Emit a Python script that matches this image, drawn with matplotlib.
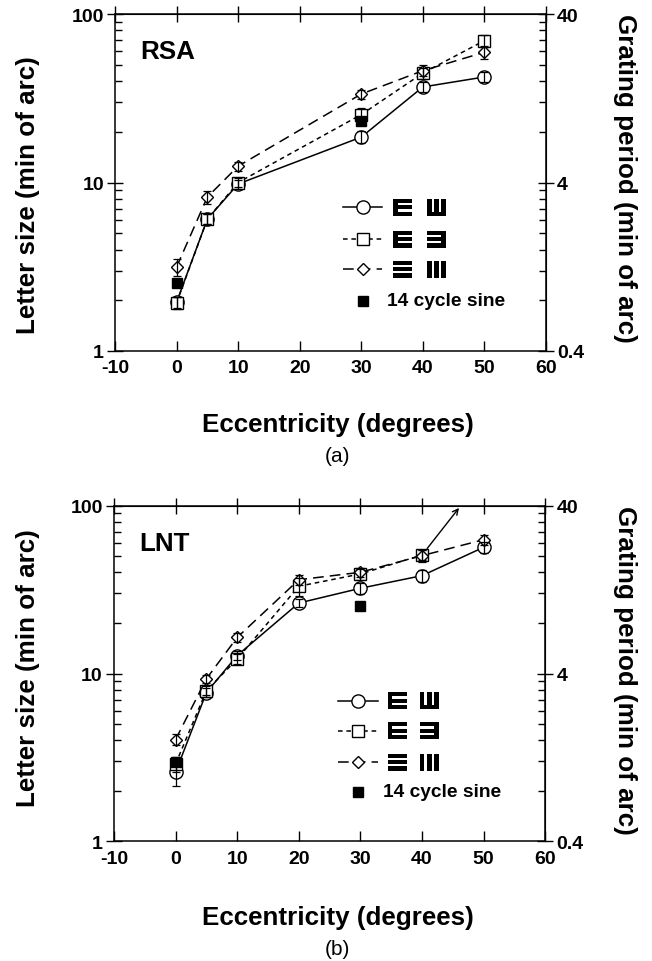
import matplotlib
matplotlib.use("Agg")
import matplotlib.pyplot as plt
from matplotlib.patches import Rectangle

plt.rcParams['font.family'] = ['Liberation Sans', 'DejaVu Sans']
plt.rcParams['font.weight'] = 'bold'

# ===== data (letter size, min of arc) =====
ecc_a = [0, 5, 10, 30, 40, 50]
rsa_ew = [1.95, 6.07, 9.8, 18.6, 36.9, 42.3]
rsa_ew_err = [0.15, 0.4, 0.6, 1.5, 2.5, 3.0]
rsa_ee = [1.93, 6.07, 10.0, 25.3, 44.6, 69.5]
rsa_ee_err = [0.15, 0.4, 0.6, 2.5, 3.5, 6.0]
rsa_gr = [3.15, 8.2, 12.5, 33.5, 46.1, 59.3]
rsa_gr_err = [0.35, 0.7, 0.8, 2.0, 3.5, 5.0]
rsa_sine_x = [0, 30]
rsa_sine = [2.53, 23.3]

ecc_b = [0, 5, 10, 20, 30, 40, 50]
lnt_ew = [2.58, 7.7, 12.8, 26.3, 32.2, 38.3, 56.5]
lnt_ew_err = [0.45, 0.5, 0.8, 1.5, 2.5, 3.0, 4.0]
lnt_ee = [2.89, 7.9, 12.2, 33.1, 39.2, 50.8]
lnt_ee_err = [0.3, 0.5, 0.8, 4.0, 3.0, 3.5]
lnt_gr = [4.04, 9.3, 16.4, 36.2, 40.1, 50.4, 62.7]
lnt_gr_err = [0.3, 0.5, 1.0, 2.5, 2.5, 4.0, 4.0]
lnt_sine_x = [0, 30]
lnt_sine = [2.98, 25.4]

x_ticks = [-10, 0, 10, 20, 30, 40, 50, 60]

SHORT = (0, (3, 2.5))
LONG = (0, (7, 4))


def glyph(ax, x0, yc, w, h, kind):
    # tumbling E / grating symbols: 3 bars on a 5-unit box
    s = w / 5.0
    t = h / 5.0
    y0 = yc - h / 2
    b, p = 1.2, 1.9  # bar thickness, bar pitch
    bars = []
    if kind == 'E':
        bars = [(0, 0, b, 5)] + [(0, i * p, 5, b) for i in range(3)]
    elif kind == 'W':
        bars = [(0, 0, 5, b)] + [(i * p, 0, b, 5) for i in range(3)]
    elif kind == 'R':
        bars = [(5 - b, 0, b, 5)] + [(0, i * p, 5, b) for i in range(3)]
    elif kind == 'H':
        bars = [(0, i * p, 5, b) for i in range(3)]
    elif kind == 'V':
        bars = [(i * p, 0, b, 5) for i in range(3)]
    for bx, by, bw, bh in bars:
        ax.add_patch(Rectangle((x0 + bx * s, y0 + by * t), bw * s, bh * t,
                               transform=ax.transAxes, color='black',
                               lw=0, clip_on=False, zorder=6))


def panel(ax, ecc, ew, ew_err, ee, ee_err, gr, gr_err, sx, sine, name, leg):
    mk = dict(color='black', lw=1.1, mfc='white', mec='black', mew=1.0, zorder=3)
    ax.plot(ecc, ew, ls='-', marker='o', ms=9.5, **mk)
    ax.plot(ecc[:len(ee)], ee, ls=SHORT, marker='s', ms=9, **mk)
    ax.plot(ecc, gr, ls=LONG, marker='D', ms=6.5, **mk)
    for xs, ys, es in [(ecc, ew, ew_err), (ecc[:len(ee)], ee, ee_err), (ecc, gr, gr_err)]:
        ax.errorbar(xs, ys, yerr=es, fmt='none', ecolor='black', elinewidth=0.9,
                    capsize=3, capthick=0.9, zorder=4)
    ax.plot(sx, sine, ls='none', marker='s', ms=7, color='black', zorder=5)

    ax.set_yscale('log')
    ax.set_xlim(-10, 60)
    ax.set_ylim(1, 100)
    ax.set_xticks(x_ticks)
    ax.set_xticklabels([str(v) for v in x_ticks])
    ax.tick_params(axis='x', direction='in', length=7, width=1, labelsize=14, pad=6)
    ax.tick_params(axis='y', which='major', direction='inout', length=12, width=1,
                   labelsize=14, pad=2)
    ax.tick_params(axis='y', which='minor', direction='in', length=5, width=1)
    ax.set_yticks([1, 10, 100])
    ax.set_yticklabels(['1', '10', '100'])
    for sp in ax.spines.values():
        sp.set_linewidth(1.1)

    top = ax.secondary_xaxis('top')
    top.set_xticks(x_ticks)
    top.tick_params(direction='inout', length=12, width=1, labelsize=0)
    top.set_xticklabels([])

    right = ax.secondary_yaxis('right', functions=(lambda v: v * 0.4, lambda v: v / 0.4))
    right.set_yticks([0.4, 4, 40])
    right.set_yticklabels(['0.4', '4', '40'])
    right.set_yticks([0.4 * k * d for d in (1, 10) for k in range(2, 10)], minor=True)
    right.yaxis.set_minor_formatter(plt.NullFormatter())
    right.tick_params(which='major', direction='inout', length=12, width=1,
                      labelsize=14, pad=2)
    right.tick_params(which='minor', direction='in', length=5, width=1)

    ax.text(0.058, 0.889, name, transform=ax.transAxes, fontsize=18.7,
            fontweight='bold', ha='left', va='center')

    # ===== legend =====
    lx0, lx1, lm, g1, g2, tx, rows = leg
    styles = [('-', 'o', 9.5), (SHORT, 's', 9), (LONG, 'D', 6.5)]
    pairs = [('E', 'W'), ('E', 'R'), ('H', 'V')]
    for (ls, m, ms), (k1, k2), yr in zip(styles, pairs, rows[:3]):
        ax.plot([lx0, lx1], [yr, yr], ls=ls, color='black', lw=1.1,
                transform=ax.transAxes, clip_on=False)
        ax.plot([lm], [yr], marker=m, ms=ms, mfc='white', mec='black', mew=1.0,
                transform=ax.transAxes, clip_on=False, zorder=5)
        glyph(ax, g1, yr, 0.044, 0.05, k1)
        glyph(ax, g2, yr, 0.044, 0.05, k2)
    ax.plot([lm], [rows[3]], marker='s', ms=7, color='black',
            transform=ax.transAxes, clip_on=False)
    ax.text(tx, rows[3], '14 cycle sine', transform=ax.transAxes, fontsize=13.8,
            fontweight='bold', ha='left', va='center')


fig = plt.figure(figsize=(6.52, 9.62), dpi=100)
ax1 = fig.add_axes([0.1764, 0.6341, 0.661, 0.3503])
ax2 = fig.add_axes([0.1748, 0.1244, 0.6615, 0.3489])

panel(ax1, ecc_a, rsa_ew, rsa_ew_err, rsa_ee, rsa_ee_err, rsa_gr, rsa_gr_err,
      rsa_sine_x, rsa_sine, 'RSA',
      (0.529, 0.619, 0.575, 0.645, 0.724, 0.630, [0.426, 0.332, 0.243, 0.149]))
panel(ax2, ecc_b, lnt_ew, lnt_ew_err, lnt_ee, lnt_ee_err, lnt_gr, lnt_gr_err,
      lnt_sine_x, lnt_sine, 'LNT',
      (0.519, 0.613, 0.566, 0.635, 0.709, 0.623, [0.419, 0.330, 0.236, 0.147]))

# off-scale point marker
ax2.annotate('', xy=(46, 97), xytext=(ecc_b[len(lnt_ee) - 1], lnt_ee[-1]),
             arrowprops=dict(arrowstyle='->', color='black', lw=1.0,
                             shrinkA=6, shrinkB=0))

lab = dict(fontsize=18.7, fontweight='bold', ha='center', va='center')
fig.text(28 / 652, 1 - 195 / 962, 'Letter size (min of arc)', rotation=90, **lab)
fig.text(625 / 652, 1 - 178 / 962, 'Grating period (min of arc)', rotation=-90, **lab)
fig.text(28 / 652, 1 - 668 / 962, 'Letter size (min of arc)', rotation=90, **lab)
fig.text(625 / 652, 1 - 670 / 962, 'Grating period (min of arc)', rotation=-90, **lab)
fig.text(338 / 652, 1 - 425 / 962, 'Eccentricity (degrees)', **lab)
fig.text(338 / 652, 1 - 918 / 962, 'Eccentricity (degrees)', **lab)
fig.text(337 / 652, 1 - 457 / 962, '(a)', fontsize=15, fontweight='normal',
         ha='center', va='center')
fig.text(337 / 652, 1 - 950 / 962, '(b)', fontsize=15, fontweight='normal',
         ha='center', va='center')

fig.savefig('out.png', dpi=100)
